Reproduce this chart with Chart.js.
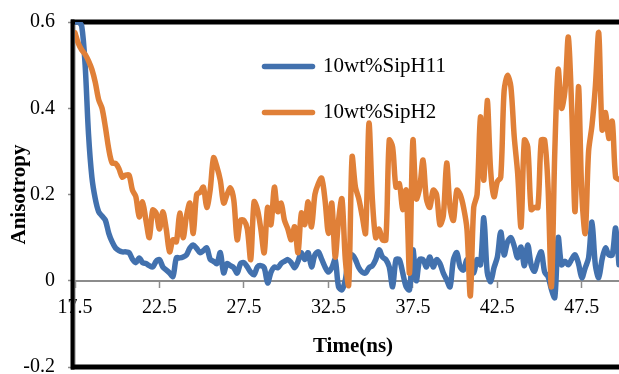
<!DOCTYPE html>
<html>
<head>
<meta charset="utf-8">
<script src="https://cdn.jsdelivr.net/npm/chart.js@4.4.0/dist/chart.umd.min.js"></script>
<style>
  html, body { margin: 0; padding: 0; background: #fff; }
  #wrap { width: 619px; height: 374px; }
</style>
</head>
<body>
<div id="wrap"><canvas id="anisotropyChart"></canvas></div>
<script>
const xTicks = [17.5, 22.5, 27.5, 32.5, 37.5, 42.5, 47.5];
const yTicks = [-0.2, 0, 0.2, 0.4, 0.6];

// sampling grid, 17.5 to 49.7 ns every 0.2 ns
const timeNs = Array.from({ length: 162 }, (_, i) => +(17.5 + i * 0.2).toFixed(1));

const sipH11 = [
  0.6, 0.6, 0.59, 0.5, 0.34, 0.24, 0.19, 0.16, 0.15, 0.14,
  0.11, 0.09, 0.076, 0.07, 0.067, 0.067, 0.065, 0.05, 0.042, 0.053,
  0.042, 0.04, 0.035, 0.032, 0.045, 0.049, 0.032, 0.025, 0.018, 0.01,
  0.053, 0.053, 0.055, 0.06, 0.076, 0.083, 0.075, 0.065, 0.07, 0.076,
  0.05, 0.045, 0.04, 0.065, 0.018, 0.04, 0.035, 0.03, 0.018, 0.04,
  0.042, 0.032, 0.02, 0.014, 0.032, 0.035, 0.03, -0.005, 0.02, 0.032,
  0.03, 0.04, 0.045, 0.049, 0.042, 0.03, 0.045, 0.065, 0.049, 0.065,
  0.032, 0.06, 0.067, 0.05, 0.032, 0.02, 0.03, 0.049, -0.014, -0.021,
  0.002, 0.055, 0.06, 0.049, 0.03, 0.02, 0.018, 0.03, 0.035, 0.049,
  0.072, 0.055, 0.049, 0.032, -0.014, 0.049, 0.049, 0.018, -0.014, -0.021,
  0.072, 0.0, 0.049, 0.049, 0.032, 0.055, 0.032, 0.049, 0.04, 0.018,
  0.002, -0.014, 0.049, 0.065, 0.032, 0.025, 0.049, 0.032, 0.018, 0.049,
  0.037, 0.146, 0.02, -0.002, 0.03, 0.055, 0.113, 0.06, 0.09, 0.1,
  0.08, 0.053, 0.078, 0.035, 0.083, 0.037, 0.022, 0.05, 0.067, 0.02,
  0.01, -0.02, -0.039, 0.1, 0.037, 0.045, 0.037, 0.05, 0.06, 0.04,
  0.007, 0.03, 0.053, 0.136, 0.037, 0.007, 0.05, 0.076, 0.06, 0.06,
  0.122, 0.037
];

const sipH2 = [
  0.575, 0.55, 0.535, 0.525, 0.51, 0.49, 0.46, 0.42, 0.40, 0.356,
  0.305, 0.273, 0.272, 0.26, 0.24, 0.245, 0.245, 0.21, 0.195, 0.148,
  0.183, 0.14, 0.10, 0.164, 0.157, 0.12, 0.16, 0.12, 0.067, 0.095,
  0.09, 0.157, 0.10, 0.15, 0.18, 0.11, 0.2, 0.205, 0.217, 0.17,
  0.21, 0.285, 0.264, 0.233, 0.18, 0.2, 0.215, 0.187, 0.095, 0.14,
  0.14, 0.12, 0.049, 0.183, 0.165, 0.12, 0.065, 0.17, 0.13, 0.217,
  0.16, 0.18, 0.14, 0.12, 0.095, 0.125, 0.065, 0.157, 0.13, 0.183,
  0.125, 0.2, 0.225, 0.238, 0.187, 0.11, 0.18, 0.055, 0.14, 0.19,
  0.05, -0.01, 0.287, 0.217, 0.19, 0.15, 0.11, 0.365, 0.19, 0.1,
  0.12, 0.095, 0.095, 0.326, 0.31, 0.217, 0.225, 0.165, 0.21, 0.018,
  0.326, 0.19, 0.215, 0.28, 0.19, 0.17, 0.21, 0.2, 0.13, 0.15,
  0.273, 0.17, 0.14, 0.21, 0.2, 0.17, 0.12, -0.035, 0.17, 0.2,
  0.38, 0.233, 0.418, 0.257, 0.195, 0.23, 0.24, 0.44, 0.476, 0.45,
  0.333, 0.25, 0.125, 0.326, 0.31, 0.165, 0.17, 0.17, 0.326, 0.326,
  0.217, -0.014, 0.3, 0.49, 0.4, 0.44, 0.565, 0.4, 0.16, 0.45,
  0.2, 0.11, 0.3, 0.36, 0.45, 0.575, 0.35, 0.39, 0.33, 0.37,
  0.24, 0.235
];

const serif = "'Liberation Serif', 'Times New Roman', serif";
Chart.defaults.font.family = serif;
Chart.defaults.font.size = 20;
Chart.defaults.color = '#000';

const axisGrey = '#8c8c8c';

// black plot frame, the x axis title inside it, and the legend moved into the plot
const framePlugin = {
    id: 'plotFrame',
    beforeDraw(chart) {
        const lg = chart.legend;
        const w = lg.width, h = lg.height;
        lg.left = 239.5;
        lg.top = 31;
        lg.right = lg.left + w;
        lg.bottom = lg.top + h;
    },
    beforeDatasetsDraw(chart) {
        const { ctx, chartArea: a } = chart;
        ctx.save();
        ctx.strokeStyle = '#000';
        ctx.lineWidth = 5;
        ctx.beginPath();
        ctx.moveTo(a.left - 4, a.top);
        ctx.lineTo(a.right, a.top);
        ctx.moveTo(a.left - 4, a.bottom);
        ctx.lineTo(a.right, a.bottom);
        ctx.stroke();
        ctx.lineWidth = 4;
        ctx.beginPath();
        ctx.moveTo(a.left - 2.5, a.top - 2.5);
        ctx.lineTo(a.left - 2.5, a.bottom + 2.5);
        ctx.stroke();

        ctx.fillStyle = '#000';
        ctx.font = `bold 21px ${serif}`;
        ctx.textAlign = 'center';
        ctx.textBaseline = 'middle';
        ctx.fillText('Time(ns)', (a.left + a.right) / 2 + 6, a.bottom - 20);
        ctx.restore();
    }
};

const ctx = document.getElementById('anisotropyChart');
new Chart(ctx, {
    type: 'line',
    data: {
        datasets: [
            {
                label: '10wt%SipH11',
                data: timeNs.map((t, i) => ({ x: t, y: sipH11[i] })),
                borderColor: 'rgb(66, 113, 174)',
                backgroundColor: 'rgb(66, 113, 174)',
                borderWidth: 5.5,
                pointRadius: 0,
                tension: 0.3,
                borderCapStyle: 'round',
                borderJoinStyle: 'round',
                order: 2
            },
            {
                label: '10wt%SipH2',
                data: timeNs.map((t, i) => ({ x: t, y: sipH2[i] })),
                borderColor: 'rgb(224, 128, 56)',
                backgroundColor: 'rgb(224, 128, 56)',
                borderWidth: 5.5,
                pointRadius: 0,
                tension: 0.3,
                borderCapStyle: 'round',
                borderJoinStyle: 'round',
                order: 1
            }
        ]
    },
    options: {
        responsive: true,
        maintainAspectRatio: false,
        animation: false,
        layout: {
            padding: { top: 22, bottom: 7, left: 0, right: 0 }
        },
        plugins: {
            tooltip: { enabled: false },
            legend: {
                position: 'chartArea',
                align: 'start',
                labels: {
                    usePointStyle: true,
                    pointStyle: 'line',
                    pointStyleWidth: 48,
                    padding: 25,
                    font: { size: 21 },
                    color: '#000',
                    sort: (a, b) => a.datasetIndex - b.datasetIndex,
                    generateLabels: chart => Chart.defaults.plugins.legend.labels
                        .generateLabels(chart)
                        .map(item => ({ ...item, lineCap: 'round' }))
                }
            }
        },
        scales: {
            x: {
                type: 'linear',
                position: { y: 0 },
                min: 17.5,
                max: 49.7,
                afterBuildTicks: scale => {
                    scale.ticks = xTicks.map(v => ({ value: v }));
                },
                afterFit: scale => {
                    scale.height = 0;
                    scale.paddingLeft = 0;
                    scale.paddingRight = 0;
                },
                grid: {
                    drawOnChartArea: false,
                    tickLength: 6,
                    tickColor: axisGrey,
                    tickWidth: 1.5
                },
                border: { color: axisGrey, width: 2 },
                ticks: {
                    padding: 9,
                    maxRotation: 0,
                    autoSkip: false,
                    callback: v => v.toFixed(1)
                }
            },
            y: {
                min: -0.2,
                max: 0.6,
                afterBuildTicks: scale => {
                    scale.ticks = yTicks.map(v => ({ value: v }));
                },
                afterFit: scale => {
                    scale.width = 75;
                    scale.paddingTop = 0;
                    scale.paddingBottom = 0;
                },
                grid: {
                    drawOnChartArea: false,
                    tickLength: 7,
                    tickColor: axisGrey,
                    tickWidth: 1.5
                },
                border: { color: axisGrey, width: 1.5 },
                ticks: {
                    padding: 13,
                    callback: v => (v === 0 ? '0' : v.toFixed(1))
                },
                title: {
                    display: true,
                    text: 'Anisotropy',
                    font: { size: 21, weight: 'bold' },
                    padding: { top: 7, bottom: 0 }
                }
            }
        }
    },
    plugins: [framePlugin]
});
</script>
</body>
</html>
